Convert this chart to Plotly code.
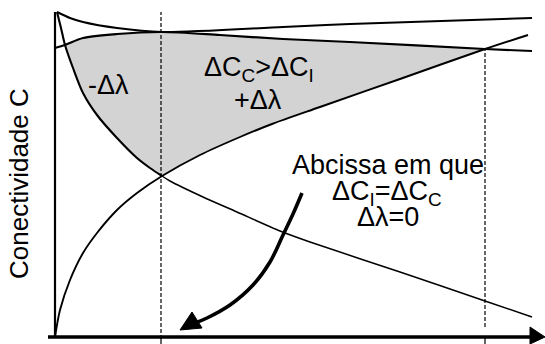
import plotly.graph_objects as go

# ---- data (schematic units: x to the right, y up; origin at the axes corner) ----
# Curve A: decreasing curve (steep at left, crosses B at the first dashed line)
a_x = [2, 6, 10, 18, 28, 42, 62, 82, 95, 107, 115, 148, 182, 225, 255, 345, 430, 477]
a_y = [325, 309, 292, 269, 244, 222, 199, 179, 169, 161, 156, 140, 125, 106, 95, 65, 36, 20]
# Curve B: increasing curve from the origin
b_x = [0, 5, 15, 28, 42, 62, 82, 107, 145, 185, 217, 265, 345, 430, 473]
b_y = [0, 27, 57, 84, 104, 127, 144, 161, 182, 200, 213, 230, 258, 288, 302]
# Curve C: upper boundary of the shaded region
c_x = [0, 10, 28, 62, 107, 165, 228, 295, 430, 477]
c_y = [289, 292, 299, 303, 305, 302, 298, 295, 288, 286]
# Curve D: top curve
d_x = [2, 15, 28, 62, 107, 228, 295, 477]
d_y = [325, 319, 315, 309, 305, 310, 313, 319]

# abscissas of the two dashed guide lines
guide_x = [106, 430]
guide_top = [325, 288]
guide_bottom = [-2, 10]

# curved arrow pointing to the abscissa
arrow_x = [247, 238, 228, 215, 198, 175, 152, 140]
arrow_y = [144, 123, 102, 75, 52, 32, 19, 14]
head_x = [125, 137, 147]
head_y = [7, 25, 9]

# axes extents
y_axis_top = 325
x_axis_start, x_axis_end, x_axis_tip = -7, 475, 490

# shaded region limits
fill_left, fill_mid, fill_right = 10, 107, 430

FONT = "Liberation Sans, Arial, sans-serif"
BLACK = "#000000"
GRAY = "#d3d3d3"

fig = go.Figure()

# shaded region: C on top; A (left of mid) and B (right of mid) below
top = [(x, y) for x, y in zip(c_x, c_y) if fill_left <= x <= fill_right]
low_b = [(x, y) for x, y in zip(b_x, b_y) if fill_mid <= x <= fill_right]
low_a = [(x, y) for x, y in zip(a_x, a_y) if fill_left <= x <= fill_mid]
poly = top + low_b[::-1] + low_a[::-1]
fig.add_trace(go.Scatter(x=[p[0] for p in poly], y=[p[1] for p in poly],
                         mode="lines", fill="toself", fillcolor=GRAY,
                         line=dict(width=0), hoverinfo="skip"))

# dashed guides
for gx, gt, gb in zip(guide_x, guide_top, guide_bottom):
    fig.add_trace(go.Scatter(x=[gx, gx], y=[gb, gt], mode="lines",
                             line=dict(color=BLACK, width=1.2, dash="4px,2px")))
# small ticks below the x axis
for gx in guide_x:
    fig.add_trace(go.Scatter(x=[gx, gx], y=[0, -7], mode="lines",
                             line=dict(color=BLACK, width=1.2)))

# curves
ax_thick = [(x, y) for x, y in zip(a_x, a_y) if x <= fill_mid]
ax_thin = [(x, y) for x, y in zip(a_x, a_y) if x >= fill_mid]
fig.add_trace(go.Scatter(x=[p[0] for p in ax_thick], y=[p[1] for p in ax_thick], mode="lines",
                         line=dict(color=BLACK, width=2.1, shape="spline", smoothing=0.8)))
fig.add_trace(go.Scatter(x=[p[0] for p in ax_thin], y=[p[1] for p in ax_thin], mode="lines",
                         line=dict(color=BLACK, width=1.5, shape="spline", smoothing=0.8)))
fig.add_trace(go.Scatter(x=b_x, y=b_y, mode="lines",
                         line=dict(color=BLACK, width=1.9, shape="spline", smoothing=0.8)))
fig.add_trace(go.Scatter(x=c_x, y=c_y, mode="lines",
                         line=dict(color=BLACK, width=2.2, shape="spline", smoothing=0.8)))
fig.add_trace(go.Scatter(x=d_x, y=d_y, mode="lines",
                         line=dict(color=BLACK, width=2.0, shape="spline", smoothing=0.8)))

# axes
fig.add_trace(go.Scatter(x=[0, 0], y=[0, y_axis_top], mode="lines",
                         line=dict(color=BLACK, width=2.2)))
fig.add_trace(go.Scatter(x=[x_axis_start, x_axis_end], y=[0, 0], mode="lines",
                         line=dict(color=BLACK, width=3.5)))
fig.add_trace(go.Scatter(x=[x_axis_end, x_axis_tip, x_axis_end, x_axis_end],
                         y=[10, 0, -7, 10], mode="lines", fill="toself",
                         fillcolor=BLACK, line=dict(color=BLACK, width=1)))

# curved arrow
fig.add_trace(go.Scatter(x=arrow_x, y=arrow_y, mode="lines",
                         line=dict(color=BLACK, width=3.6, shape="spline", smoothing=1)))
fig.add_trace(go.Scatter(x=head_x + head_x[:1], y=head_y + head_y[:1], mode="lines",
                         fill="toself", fillcolor=BLACK, line=dict(color=BLACK, width=1)))

# texts
def txt(x, y, s, size=27, angle=0):
    fig.add_annotation(x=x, y=y, text=s, showarrow=False, textangle=angle,
                       xanchor="center", yanchor="middle",
                       font=dict(family=FONT, size=size, color=BLACK))

txt(53, 252, "-Δλ")
txt(204, 268, "ΔC<sub>C</sub>>ΔC<sub>I</sub>")
txt(203, 237, "+Δλ")
txt(333, 172, "Abcissa em que")
txt(332, 144, "ΔC<sub>I</sub>=ΔC<sub>C</sub>")
txt(333, 120, "Δλ=0")
txt(-36, 153, "Conectividade C", size=26, angle=-90)

fig.update_layout(
    width=545, height=344, autosize=False,
    margin=dict(l=0, r=0, t=0, b=0),
    paper_bgcolor="white", plot_bgcolor="white",
    showlegend=False, hovermode=False,
    xaxis=dict(range=[-55, 490], visible=False, fixedrange=True),
    yaxis=dict(range=[-7, 337], visible=False, fixedrange=True),
)

fig.write_html("out.html", config={"displayModeBar": False, "staticPlot": True},
               post_script="document.body.style.margin='0';document.body.style.padding='0';")
